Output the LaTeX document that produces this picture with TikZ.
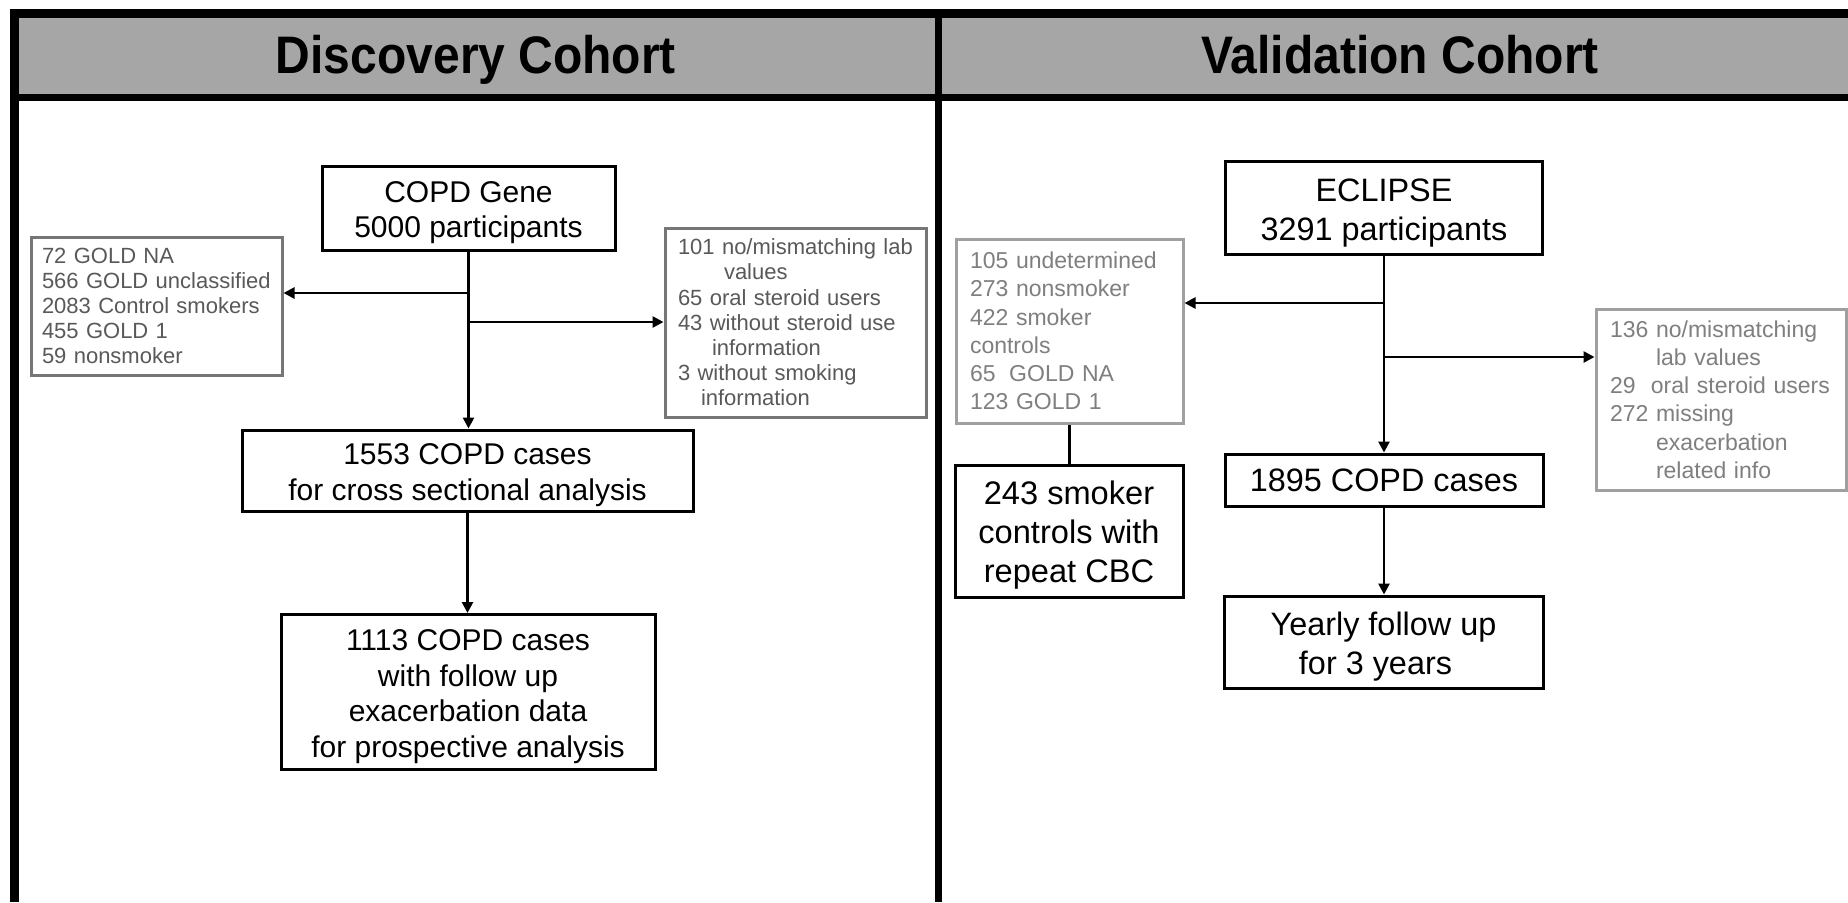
\documentclass[tikz,border=0pt]{standalone}
\usepackage{fontspec}
\usepackage{graphicx}
\setmainfont{Liberation Sans}
\usetikzlibrary{arrows.meta}
\definecolor{hdrgrey}{HTML}{A6A6A6}
\definecolor{dtext}{HTML}{595959}
\definecolor{dborder}{HTML}{767676}
\definecolor{vtext}{HTML}{7F7F7F}
\definecolor{vborder}{HTML}{A0A0A0}
\newcommand{\boxlines}[1]{\raisebox{-2.5pt}[\height][\depth]{\begin{tabular}{@{}c@{}}#1\end{tabular}}}
\tikzset{
  mainbox/.style={draw=black, line width=1.5pt, fill=white, align=center, inner sep=0pt},
  dfont/.style={font=\fontsize{15}{17.7}\selectfont},
  vfont/.style={font=\fontsize{16.2}{19.5}\selectfont},
  dgrey/.style={draw=dborder, line width=1.5pt, fill=white, text=dtext, align=left, inner ysep=0pt,
     font=\fontsize{11}{12.6}\selectfont},
  vgrey/.style={draw=vborder, line width=1.5pt, fill=white, text=vtext, align=left, inner ysep=0pt,
     font=\fontsize{11.5}{14.1}\selectfont},
  conn/.style={draw=black, line width=1.3pt},
  arr/.style={conn, -{Triangle[length=5.5pt,width=5.5pt]}},
  titlefont/.style={font=\fontsize{24}{28}\bfseries\selectfont, inner sep=0pt, anchor=base}
}
\begin{document}
\begin{tikzpicture}[x=0.5pt,y=-0.5pt]
\useasboundingbox (0,0) rectangle (1848,902);
% frame
\fill[hdrgrey] (19,18) rectangle (1848,94);
\draw[line width=4.5pt] (10,13.5) -- (1848,13.5);
\draw[line width=4.5pt] (14.5,9) -- (14.5,902);
\draw[line width=3.5pt] (10,97.5) -- (1848,97.5);
\draw[line width=3.5pt] (938.5,9) -- (938.5,902);
\node[titlefont] (t1) at (476,73) {\scalebox{1}[1.1]{Discovery Cohort}};
\node[titlefont] (t2) at (1400,73) {\scalebox{1}[1.1]{Validation Cohort}};

% Discovery cohort
\node[mainbox, dfont, minimum width=146.5pt, minimum height=42pt] (gene) at (468.5,208)
  {\boxlines{COPD Gene\\5000 participants}};
\node[dgrey, minimum width=125.5pt, minimum height=69pt, text width=114.5pt, inner xsep=5.5pt] (exL) at (156.5,306)
  {72 GOLD NA\\566 GOLD unclassified\\2083 Control smokers\\455 GOLD 1\\59 nonsmoker};
\node[dgrey, minimum width=130.5pt, minimum height=94.5pt, text width=117.5pt, inner xsep=6.5pt] (exR) at (795.5,322.5)
  {101 no/mismatching lab\\\hspace*{23pt}values\\65 oral steroid users\\43 without steroid use\\\hspace*{17pt}information\\3 without smoking\\\hspace*{11.5pt}information};
\node[mainbox, dfont, minimum width=225.5pt, minimum height=40.5pt] (c1553) at (467.5,470.5)
  {\boxlines{1553 COPD cases\\for cross sectional analysis}};
\node[mainbox, dfont, minimum width=187pt, minimum height=77.5pt] (c1113) at (468,692)
  {\boxlines{1113 COPD cases\\with follow up\\exacerbation data\\for prospective analysis}};

\coordinate (dbL) at (468,293);
\coordinate (dbR) at (468,322);
\draw[arr] (gene.south) -- (gene.south |- c1553.north);
\draw[arr] (dbL) -- (dbL -| exL.east);
\draw[arr] (dbR) -- (dbR -| exR.west);
\draw[arr] (c1553.south) -- (c1553.south |- c1113.north);

% Validation cohort
\node[mainbox, vfont, minimum width=158.5pt, minimum height=46.5pt] (ecl) at (1384,208)
  {\boxlines{ECLIPSE\\3291 participants}};
\node[vgrey, minimum width=113.5pt, minimum height=92pt, text width=99.5pt, inner xsep=7pt] (vL) at (1069.5,331)
  {105 undetermined\\273 nonsmoker\\422 smoker\\controls\\65\hspace{3pt} GOLD NA\\123 GOLD 1};
\node[mainbox, font=\fontsize{16.3}{19.5}\selectfont, minimum width=114pt, minimum height=66pt] (c243) at (1069,531)
  {\boxlines{243 smoker\\controls with\\repeat CBC}};
\node[vgrey, minimum width=125pt, minimum height=90.5pt, text width=111pt, inner xsep=7pt] (vR) at (1721,399.5)
  {136 no/mismatching\\\hspace*{23pt}lab values\\29\ \ oral steroid users\\272 missing\\\hspace*{23pt}exacerbation\\\hspace*{23pt}related info};
\node[mainbox, vfont, minimum width=159pt, minimum height=26pt] (c1895) at (1384,480)
  {1895 COPD cases};
\node[mainbox, vfont, minimum width=159.5pt, minimum height=46pt] (yearly) at (1383.5,642)
  {\boxlines{Yearly follow up\\for 3 years\hspace*{8pt}}};

\coordinate (vbL) at (1384,303);
\coordinate (vbR) at (1384,357);
\draw[arr] (ecl.south) -- (ecl.south |- c1895.north);
\draw[arr] (vbL) -- (vbL -| vL.east);
\draw[arr] (vbR) -- (vbR -| vR.west);
\draw[arr] (c1895.south) -- (c1895.south |- yearly.north);
\draw[conn] (vL.south) -- (vL.south |- c243.north);
\end{tikzpicture}
\end{document}
